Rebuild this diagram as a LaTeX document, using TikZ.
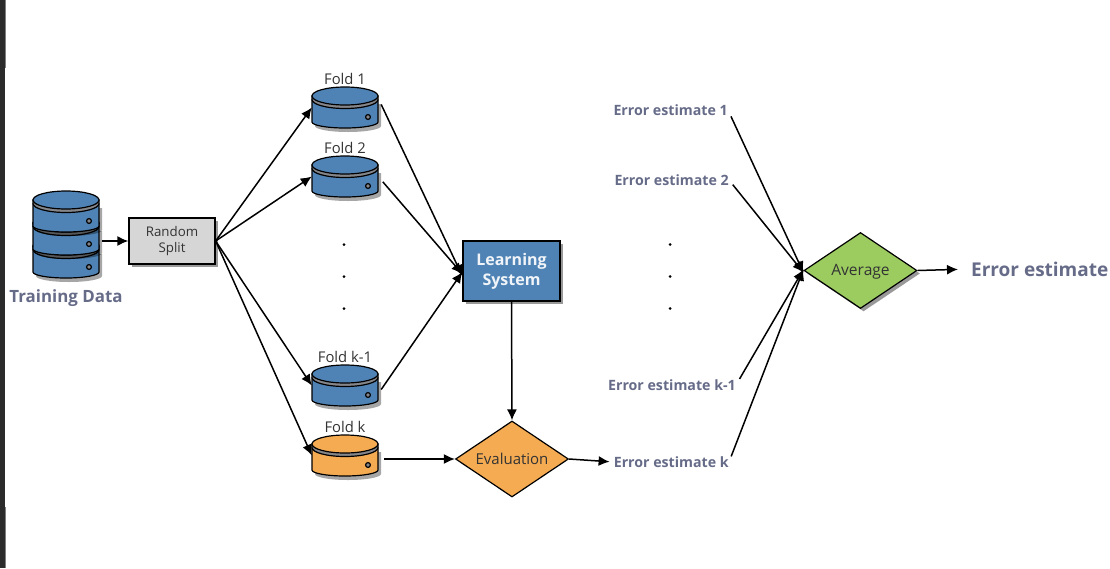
\documentclass[tikz,border=0pt]{standalone}
\usepackage{fontspec}
\setmainfont{Open Sans}
\usetikzlibrary{arrows.meta, positioning, shapes.geometric, shadows, fit}
\definecolor{diskblue}{HTML}{4F83B5}
\definecolor{diskorange}{HTML}{F5AB52}
\definecolor{avggreen}{HTML}{9CCC60}
\definecolor{splitgray}{HTML}{D6D6D6}
\definecolor{bandgray}{HTML}{85868A}
\definecolor{slatetext}{HTML}{666B88}
\definecolor{inktext}{HTML}{333333}
\definecolor{barblack}{HTML}{2B2B2B}
\tikzset{%
  softshadow/.style={drop shadow={shadow xshift=3pt, shadow yshift=-3pt, fill=black, opacity=.4}},
  diskbox/.style={shape=rectangle, minimum width=66pt, minimum height=41pt, inner sep=0pt},
  foldtext/.style={text=inktext, font=\fontsize{14.8}{16}\selectfont, inner sep=0pt},
  errortext/.style={text=slatetext, font=\fontsize{14.2}{16}\selectfont\bfseries, inner sep=0pt},
  decision/.style={shape=diamond, aspect=1.49, draw=black, line width=1.2pt, minimum width=113pt, minimum height=76pt, inner sep=0pt, text=inktext, text height=10pt, text depth=0pt},
  dotnode/.style={shape=circle, fill=black, inner sep=0pt, minimum size=3pt},
  link/.style={draw, line width=1.5pt, -{Latex[length=11pt,width=10pt]}}
}
% one disk, y is the centre of its top face
\newcommand{\dbdisk}[4]{%
  \begin{scope}[shift={(#2,#3)}]
    \fill[black, opacity=.35] (-30,8) -- (-30,30) arc[start angle=180, end angle=0, x radius=33, y radius=6] -- (36,8) -- cycle;
    \draw[fill=#4, line width=1.2pt] (-33,4) -- (-33,26) arc[start angle=180, end angle=0, x radius=33, y radius=6] -- (33,4) -- cycle;
    \draw[fill=bandgray, line width=1.2pt] (-33,0) -- (-33,3.5) arc[start angle=180, end angle=0, x radius=33, y radius=9] -- (33,0) -- cycle;
    \draw[fill=#4, line width=1.2pt] (0,0) ellipse[x radius=33, y radius=9];
    \draw[fill=bandgray, line width=1.2pt] (23,21) circle[radius=2.4];
    \node[diskbox] (#1) at (0,11.5) {};
  \end{scope}
}
\begin{document}
\begin{tikzpicture}[x=1pt, y=-1pt, >=latex]
\useasboundingbox (0,0) rectangle (1110,568);

\fill[barblack] (0,0) rectangle (5,568);
\fill[gray] (5,0) rectangle (6,68);
\fill[gray] (5,507) rectangle (6,568);

\dbdisk{d3}{66}{246}{diskblue}
\dbdisk{d2}{66}{223}{diskblue}
\dbdisk{d1}{66}{200}{diskblue}
\node[fit=(d1)(d2)(d3), inner sep=0pt] (td) {};
\node[below=11pt of td, text=slatetext, font=\fontsize{16.9}{18}\selectfont\bfseries, inner sep=0pt] (tdtext) {Training Data};

\node[draw=black, line width=1.3pt, fill=splitgray, softshadow, minimum width=86pt, minimum height=46pt, inner sep=0pt, align=center, text=inktext, font=\fontsize{13.3}{16}\selectfont] (rs) at (172,241) {Random\\Split};

\dbdisk{f1}{345}{96}{diskblue}
\dbdisk{f2}{345}{165}{diskblue}
\dbdisk{f3}{345}{374}{diskblue}
\dbdisk{f4}{345}{444}{diskorange}
\node[foldtext] (f1text) at (345,79) {Fold 1};
\node[foldtext] (f2text) at (345,148) {Fold 2};
\node[foldtext] (f3text) at (345,357) {Fold k-1};
\node[foldtext] (f4text) at (345,427) {Fold k};

\node[dotnode] (a0) at (344,244.5) {};
\node[dotnode] (a1) at (344,276.5) {};
\node[dotnode] (a2) at (344,308.5) {};
\node[dotnode] (b0) at (670,244.5) {};
\node[dotnode] (b1) at (670,276.5) {};
\node[dotnode] (b2) at (670,308.5) {};

\node[draw=black, line width=1.3pt, fill=diskblue, softshadow, minimum width=97pt, minimum height=60pt, inner sep=0pt, align=center, text=white!92!diskblue, font=\fontsize{16}{20}\selectfont\bfseries] (ls) at (511.5,271) {Learning\\System};

\node[decision, fill=diskorange, font=\fontsize{15}{16}\selectfont] (ev) at (512,459) {Evaluation};
\node[decision, fill=avggreen, softshadow, font=\fontsize{15.6}{16}\selectfont] (av) at (860.5,270.5) {Average};

\node[errortext, anchor=east] (e1) at (728,110) {Error estimate 1};
\node[errortext, anchor=east] (e2) at (729,180) {Error estimate 2};
\node[errortext, anchor=east] (e3) at (736,385) {Error estimate k-1};
\node[errortext, anchor=east] (e4) at (729,462) {Error estimate k};
\node[text=slatetext, font=\fontsize{19}{20}\selectfont\bfseries, inner sep=0pt, anchor=west] (result) at (971,269) {Error estimate};

\path[link, shorten <=3pt] (td.east |- rs.west) -- (rs.west);
\path[link] (rs.east) -- (f1.west);
\path[link] (rs.east) -- (f2.west);
\path[link] (rs.east) -- (f3.west);
\path[link] (rs.east) -- (f4.west);
\path[link] ([shift={(3,-3)}]f1.east) -- ([yshift=-5pt]ls.west);
\path[link, shorten <=7pt] (f2.east) -- ([yshift=-3pt]ls.west);
\path[link] ([shift={(3,4)}]f3.east) -- ([yshift=-1pt]ls.west);
\path[link] (ls.south) -- (ev.north);
\path[link, shorten <=6pt] (f4.east |- ev.west) -- (ev.west);
\path[link, shorten >=4pt] (ev.east) -- (e4.west);
\path[link, shorten <=7pt] (e1.east) -- ([yshift=-2pt]av.west);
\path[link, shorten <=6pt] (e2.east) -- ([yshift=-2pt]av.west);
\path[link, shorten <=7pt] (e3.east) -- ([yshift=1pt]av.west);
\path[link, shorten <=6pt] (e4.east) -- ([yshift=1pt]av.west);
\path[link, shorten >=13pt] (av.east) -- (result.west);
\end{tikzpicture}
\end{document}
